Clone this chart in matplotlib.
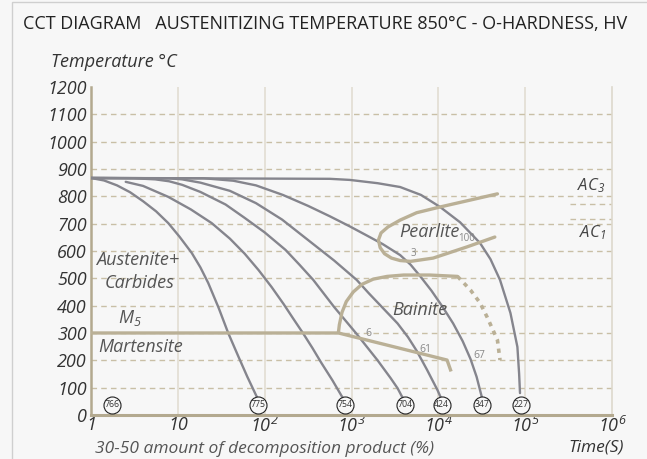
import numpy as np
import matplotlib
matplotlib.use("Agg")
import matplotlib.pyplot as plt
from matplotlib.patches import Rectangle

plt.rcParams['font.family'] = ['Open Sans', 'DejaVu Sans']
plt.rcParams['mathtext.fontset'] = 'custom'
plt.rcParams['mathtext.rm'] = 'Open Sans:italic'
plt.rcParams['mathtext.it'] = 'Open Sans:italic'

# cooling curves: log10(time s), temperature C
c1_lt = [0.0, 0.15, 0.3, 0.45, 0.6, 0.75, 0.89, 1.02, 1.16, 1.26, 1.35, 1.47, 1.58, 1.70, 1.80, 1.91]
c1_t = [867, 858, 840, 815, 782, 745, 702, 652, 593, 540, 483, 392, 300, 212, 140, 66]
c2_lt = [0.40, 0.6, 0.89, 1.15, 1.39, 1.6, 1.77, 1.93, 2.08, 2.22, 2.33, 2.44, 2.55, 2.65, 2.78, 2.90]
c2_t = [853, 838, 798, 752, 702, 645, 590, 530, 468, 405, 352, 300, 245, 192, 127, 62]
c3_lt = [0.0, 0.5, 0.74, 0.9, 1.05, 1.26, 1.55, 1.77, 2.0, 2.24, 2.40, 2.56, 2.80, 3.05, 3.30, 3.45, 3.53, 3.59]
c3_t = [867, 866, 862, 855, 842, 816, 770, 721, 668, 604, 550, 494, 395, 300, 200, 135, 98, 62]
c4_lt = [0.0, 0.9, 1.05, 1.26, 1.6, 1.9, 2.2, 2.5, 2.8, 3.06, 3.2, 3.35, 3.53, 3.65, 3.75, 3.87, 3.99, 4.04]
c4_t = [867, 866, 862, 850, 820, 775, 715, 640, 565, 494, 445, 395, 335, 285, 235, 165, 91, 55]
c5_lt = [0.0, 1.3, 1.64, 1.9, 2.21, 2.5, 2.75, 2.98, 3.18, 3.36, 3.56, 3.68, 3.79, 3.92, 4.05, 4.17, 4.28,
         4.37, 4.44, 4.50]
c5_t = [867, 866, 857, 840, 805, 765, 727, 690, 656, 625, 585, 550, 508, 455, 395, 335, 270, 205, 140, 66]
c6_lt = [0.0, 2.75, 2.98, 3.3, 3.56, 3.8, 4.02, 4.25, 4.48, 4.60, 4.71, 4.83, 4.91, 4.93, 4.94]
c6_t = [867, 864, 860, 848, 834, 805, 761, 705, 629, 570, 494, 373, 249, 150, 80]

pearlite_lt = [4.68, 4.35, 4.02, 3.75, 3.56, 3.42, 3.34, 3.31, 3.33, 3.38, 3.46, 3.56, 3.68, 3.94, 4.33, 4.65]
pearlite_t = [809, 785, 761, 740, 713, 688, 666, 640, 612, 590, 574, 565, 562, 574, 615, 651]
bainite_lt = [2.85, 2.86, 2.89, 2.94, 3.02, 3.12, 3.25, 3.41, 3.60, 3.90, 4.22]
bainite_t = [304, 330, 375, 415, 450, 478, 497, 507, 512, 512, 507]
bainite_dot_lt = [4.22, 4.37, 4.48, 4.56, 4.63, 4.68, 4.71]
bainite_dot_t = [507, 457, 410, 359, 310, 274, 201]
ms_lt = [0.0, 2.85, 4.10, 4.14]
ms_t = [300, 300, 201, 165]

ac3_t = 772
ac1_t = 717

hardness = ['766', '775', '754', '704', '424', '347', '227']
hardness_lt = [0.24, 1.92, 2.93, 3.62, 4.04, 4.50, 4.95]

xtick_labels = ['1', '10', r'$10^{2}$', r'$10^{3}$', r'$10^{4}$', r'$10^{5}$', r'$10^{6}$']
yticks = list(range(0, 1300, 100))

bg = '#f7f7f7'
grey = '#85858d'
tan = '#bab096'
gridtan = '#c9bfa6'
txt = '#555555'

fig = plt.figure(figsize=(6.47, 4.59), dpi=100, facecolor=bg)
ax = fig.add_axes([0.1406, 0.0959, 0.8054, 0.7146])
ax.set_facecolor(bg)
ax.set_xscale('log')
ax.set_xlim(1, 1e6)
ax.set_ylim(0, 1200)

def t(lts):
    return 10 ** np.array(lts)

# grid
for d in range(1, 6):
    ax.axvline(10 ** d, color='#e2ddd2', lw=1.2, zorder=0)
for y in range(100, 1200, 100):
    ax.axhline(y, color=gridtan, lw=1.0, ls=(0, (4, 3)), zorder=0)

for lt, tt in [(c1_lt, c1_t), (c2_lt, c2_t), (c3_lt, c3_t), (c4_lt, c4_t), (c5_lt, c5_t), (c6_lt, c6_t)]:
    ax.plot(t(lt), tt, color=grey, lw=1.7, solid_capstyle='round', solid_joinstyle='round', zorder=3)

ax.plot(t(pearlite_lt), pearlite_t, color=tan, lw=2.4, solid_capstyle='round', zorder=4)
ax.plot(t(bainite_lt), bainite_t, color=tan, lw=2.4, solid_capstyle='round', zorder=4)
ax.plot(t(bainite_dot_lt), bainite_dot_t, color=tan, lw=2.6, ls=(0, (1.2, 1.4)), zorder=4)
ax.plot(t(ms_lt), ms_t, color=tan, lw=2.4, zorder=4)

# AC markers on the right
ax.plot(t([5.51, 6.0]), [ac3_t, ac3_t], color=gridtan, lw=1.0, ls=(0, (4, 3)), zorder=1)
ax.plot(t([5.51, 6.0]), [ac1_t, ac1_t], color=gridtan, lw=1.0, ls=(0, (4, 3)), zorder=1)
ax.text(10 ** 5.76, 838, r'$AC_3$', fontsize=12, color='#444444', ha='center', va='center')
ax.text(10 ** 5.78, 666, r'$AC_1$', fontsize=12, color='#444444', ha='center', va='center')

# hardness circles
ax.scatter(t(hardness_lt), [37] * len(hardness), s=150, facecolor=bg, edgecolor='#222222',
           linewidth=0.8, zorder=5, clip_on=False)
for lt, h in zip(hardness_lt, hardness):
    ax.text(10 ** lt, 37, h, fontsize=6.3, color='#333333', ha='center', va='center', zorder=6)

# region labels
it = dict(style='italic', color=txt, fontsize=13)
ax.text(10 ** 0.54, 566, 'Austenite+', ha='center', va='center', **it)
ax.text(10 ** 0.56, 483, 'Carbides', ha='center', va='center', **it)
ax.text(10 ** 0.31, 355, r'$M_5$', ha='left', va='center', color=txt, fontsize=13)
ax.text(10 ** 0.08, 249, 'Martensite', ha='left', va='center', **it)
ax.text(10 ** 3.55, 670, 'Pearlite', ha='left', va='center', **it)
ax.text(10 ** 4.23, 644, '100', ha='left', va='center', color='#888888', fontsize=7)
ax.text(10 ** 3.71, 589, '3', ha='center', va='center', color='#888888', fontsize=7)
ax.text(10 ** 3.47, 384, 'Bainite', ha='left', va='center', **it)
ax.text(10 ** 3.16, 298, '6', ha='left', va='center', color='#888888', fontsize=7.5)
ax.text(10 ** 3.78, 241, '61', ha='left', va='center', color='#888888', fontsize=7.5)
ax.text(10 ** 4.40, 216, '67', ha='left', va='center', color='#888888', fontsize=7.5)

# spines and ticks
ax.spines['top'].set_visible(False)
ax.spines['right'].set_color('#ddd8cc')
ax.spines['right'].set_linewidth(1.2)
ax.spines['left'].set_color('#b3a98f')
ax.spines['left'].set_linewidth(1.8)
ax.spines['bottom'].set_color('#b3a98f')
ax.spines['bottom'].set_linewidth(2.2)
ax.set_xticks([10 ** d for d in range(7)])
ax.set_xticklabels(xtick_labels)
ax.minorticks_off()
ax.set_yticks(yticks)
ax.set_yticklabels([str(v) for v in yticks])
ax.tick_params(length=0, labelsize=13, labelcolor='#333333')
ax.tick_params(axis='x', pad=1)
ax.tick_params(axis='y', pad=3)
for lab in ax.get_yticklabels() + ax.get_xticklabels():
    lab.set_fontstyle('italic')

fig.text(23 / 647, 1 - 24 / 459, 'CCT DIAGRAM   AUSTENITIZING TEMPERATURE 850\u00b0C - O-HARDNESS, HV',
         fontsize=13, color='#222222', ha='left', va='center')
fig.text(51 / 647, 1 - 62 / 459, 'Temperature \u00b0C', fontsize=13, style='italic', color='#333333',
         ha='left', va='center')
fig.text(95 / 647, 1 - 449 / 459, '30-50 amount of decomposition product (%)', fontsize=12.5,
         style='italic', color=txt, ha='left', va='center')
fig.text(624 / 647, 1 - 448 / 459, 'Time(S)', fontsize=12.5, style='italic', color='#333333',
         ha='right', va='center')

fig.patches.append(Rectangle((12 / 647, -0.01), 1.0, 1.0 - 2 / 459 + 0.01, transform=fig.transFigure,
                             fill=False, edgecolor='#cfcfcf', lw=1.0))

fig.savefig('out.png', dpi=100, facecolor=bg)
